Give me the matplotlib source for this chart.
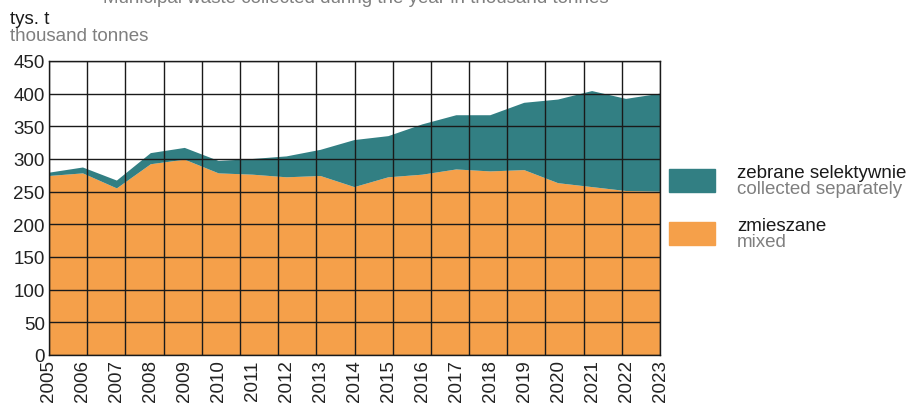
import numpy as np
import matplotlib.pyplot as plt
from matplotlib.patches import Rectangle

plt.rcParams["font.family"] = ["Liberation Sans", "DejaVu Sans"]

# data (thousand tonnes)
years = list(range(2005, 2024))
mixed = [274, 278, 255, 292, 299, 278, 276, 272, 274, 257, 272, 276, 284, 281, 283, 263, 257, 251, 250]
separate = [5, 9, 12, 17, 18, 19, 24, 32, 40, 72, 63, 77, 83, 86, 103, 128, 147, 141, 150]

labels_pl = ["zebrane selektywnie", "zmieszane"]
labels_en = ["collected separately", "mixed"]

orange = "#F5A04A"
teal = "#327F83"
grey = "#7F7F7F"
fs = 13.5

fig = plt.figure(figsize=(9.07, 4.06), dpi=100)
ax = fig.add_axes([49 / 907, 50 / 406, 611 / 907, 294 / 406])

ax.stackplot(years, mixed, separate, colors=[orange, teal], linewidth=0)

ax.set_xlim(2005, 2023)
ax.set_ylim(0, 450)
ax.set_yticks(np.arange(0, 451, 50))
ax.set_xticks(years)
ax.set_xticklabels([str(y) for y in years], rotation=90)
ax.tick_params(axis="both", length=0, labelsize=fs, colors="#222222")
ax.tick_params(axis="x", pad=3)
ax.tick_params(axis="y", pad=3)

# grid drawn on top of the areas; vertical lines don't follow the year ticks
for v in np.linspace(2005, 2023, 17):
    ax.axvline(v, color="#1a1a1a", lw=1, zorder=5)
for h in np.arange(0, 451, 50):
    ax.axhline(h, color="#1a1a1a", lw=1, zorder=5)
for s in ax.spines.values():
    s.set_color("#1a1a1a")
    s.set_linewidth(1)
    s.set_zorder(6)

# titles / units
fig.text(356 / 907, 0.993, "Municipal waste collected during the year in thousand tonnes",
         ha="center", va="baseline", fontsize=fs, color=grey)
fig.text(10 / 907, 1 - 24 / 406, "tys. t", ha="left", va="baseline", fontsize=fs, color="#1a1a1a")
fig.text(10 / 907, 1 - 41 / 406, "thousand tonnes", ha="left", va="baseline", fontsize=fs, color=grey)

# legend
leg_colors = [teal, orange]
leg_tops = [170, 223]
for c, top, lp, le in zip(leg_colors, leg_tops, labels_pl, labels_en):
    fig.patches.append(Rectangle((669 / 907, 1 - (top + 23) / 406), 46 / 907, 23 / 406,
                                 transform=fig.transFigure, color=c))
    fig.text(737 / 907, 1 - (top + 8) / 406, lp, ha="left", va="baseline", fontsize=fs, color="#1a1a1a")
    fig.text(737 / 907, 1 - (top + 24) / 406, le, ha="left", va="baseline", fontsize=fs, color=grey)

fig.savefig("out.png", dpi=100)
